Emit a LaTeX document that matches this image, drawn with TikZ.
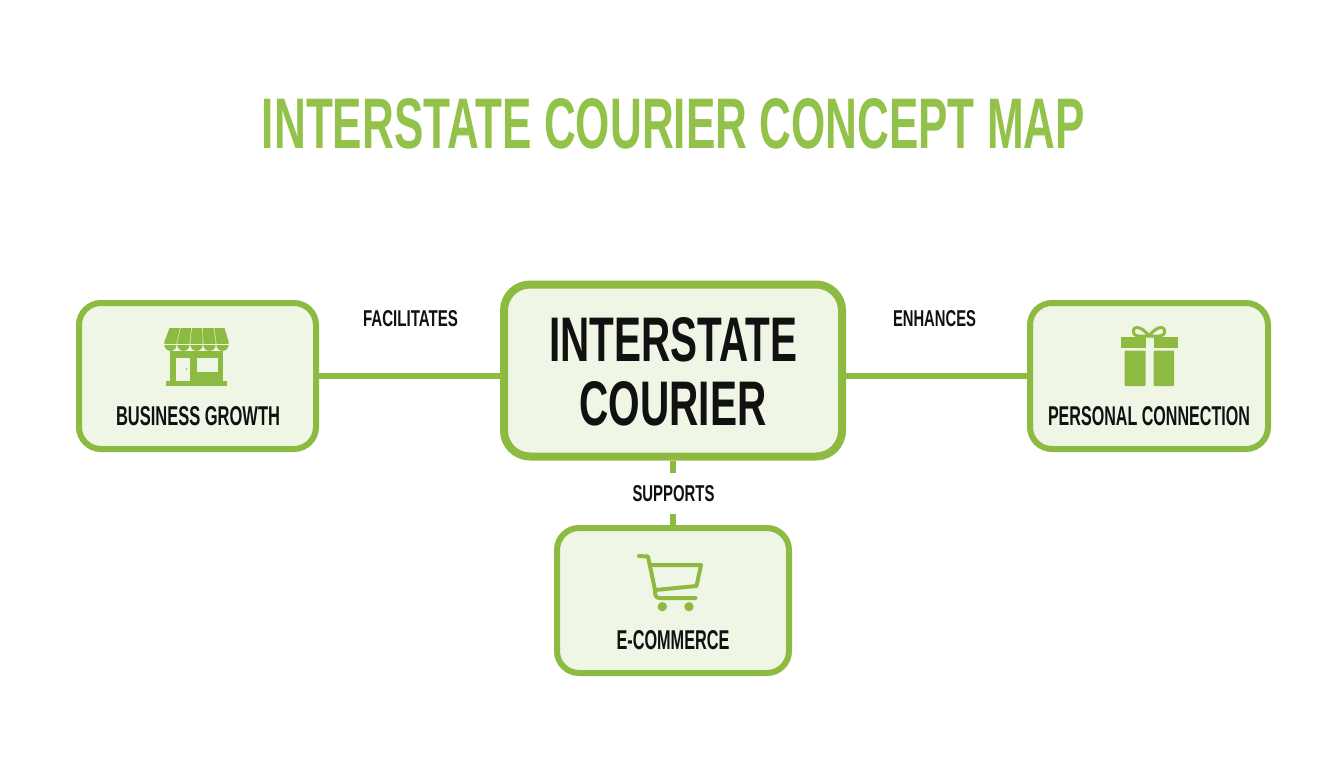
\documentclass[tikz,border=0pt]{standalone}
\usepackage{fontspec}
\usepackage{graphicx}
\setmainfont{Liberation Sans}
\definecolor{leaf}{HTML}{8DBB41}
\definecolor{titleleaf}{HTML}{93C24A}
\definecolor{pale}{HTML}{EFF6E5}
\definecolor{ink}{HTML}{111111}
\newcommand{\fitcaps}[3]{\resizebox{#1pt}{#2pt}{\bfseries\fontsize{40pt}{40pt}\selectfont #3}}
\tikzset{
  concept/.style={draw=leaf,fill=pale,line width=6pt,rounded corners=22pt,inner sep=0pt},
  link/.style={draw=leaf,line width=5.5pt},
  caption/.style={text=ink,inner sep=0pt,anchor=center},
  iconfill/.style={fill=leaf,draw=none},
  iconline/.style={draw=leaf,line width=4pt,line cap=round,line join=round},
}
\begin{document}
\begin{tikzpicture}[x=1pt,y=-1pt]
\useasboundingbox[fill=white] (0,0) rectangle (1344,768);
\node[caption,text=titleleaf] (title) at (673.5,124) {\fitcaps{823}{50}{INTERSTATE COURIER CONCEPT MAP}};

\node[concept,minimum width=237pt,minimum height=146pt] (growth) at (197.5,376) {};
\node[concept,minimum width=238pt,minimum height=146pt] (personal) at (1149,376) {};
\node[concept,minimum width=232pt,minimum height=145pt] (ecom) at (673,600.5) {};
\node[concept,line width=8pt,rounded corners=26pt,minimum width=338pt,minimum height=172pt] (center) at (673,370.5) {};

\draw[link] (growth.east) -- (center.west |- growth.east);
\draw[link] (center.east |- personal.west) -- (personal.west);
\draw[link] (center.south) -- (ecom.north);

\node[caption] (cline1) at (673,340) {\fitcaps{248}{44}{INTERSTATE}};
\node[caption] (cline2) at (673,404) {\fitcaps{187}{44}{COURIER}};
\node[caption] (growthlabel) at (198,416) {\fitcaps{164}{19}{BUSINESS GROWTH}};
\node[caption] (personallabel) at (1149,416) {\fitcaps{202}{19}{PERSONAL CONNECTION}};
\node[caption] (ecomlabel) at (673,640) {\fitcaps{113}{19}{E-COMMERCE}};
\node[caption] (facilitates) at (410.5,319) {\fitcaps{95}{16}{FACILITATES}};
\node[caption] (enhances) at (934.5,319) {\fitcaps{83}{16}{ENHANCES}};
\node[caption,fill=white,inner xsep=4pt,inner ysep=12pt] (supports) at (673.5,493.5) {\fitcaps{82}{16}{SUPPORTS}};

% shop icon
\fill[iconfill] (170,351) rectangle (223,381);
\fill[iconfill] (166,380.5) rectangle (227,386);
\fill[pale] (176,358) rectangle (190,380.5);
\fill[pale] (197,358) rectangle (218,372);
\fill[leaf] (186.5,369) circle (0.8);
\foreach \a/\b/\c/\d in {164/177/169.5/180,177/190/180.7/191.2,190/203/191.9/202.4,203/216/203.1/213.6,216/229/214.3/224.5}{
  \fill[iconfill] (\a+0.3,342) -- (\c,328) -- (\d,328) -- (\b-0.3,342) -- (\b-0.3,344.5)
    .. controls (\b-0.3,353) and (\a+0.3,353) .. (\a+0.3,344.5) -- cycle;
}
\draw[pale,line width=0.8pt] (164,344.5) -- (229,344.5);

% gift icon
\fill[iconfill] (1120.5,337) rectangle (1145.5,348);
\fill[iconfill] (1153.5,337) rectangle (1177.5,348);
\fill[iconfill,rounded corners=1pt] (1124.5,350.5) rectangle (1145.5,386);
\fill[iconfill,rounded corners=1pt] (1153.5,350.5) rectangle (1174,386);
\draw[iconline,line width=3pt] (1149,336) .. controls (1140,324) and (1131,326) .. (1134,334) .. controls (1136,337) and (1143,336) .. (1149,336);
\draw[iconline,line width=3pt] (1149,336) .. controls (1158,324) and (1167,326) .. (1164,334) .. controls (1162,337) and (1155,336) .. (1149,336);

% cart icon
\draw[iconline] (639,556) -- (648,556.5) -- (655,590);
\draw[iconline] (650.5,565) -- (701,565) -- (696.5,586) -- (655,590);
\draw[iconline] (655,590) .. controls (655,596) and (656,598) .. (660,598) -- (695.5,598);
\fill[iconfill] (662.3,606.7) circle (4.7);
\fill[iconfill] (689,606.7) circle (4.7);
\end{tikzpicture}
\end{document}
